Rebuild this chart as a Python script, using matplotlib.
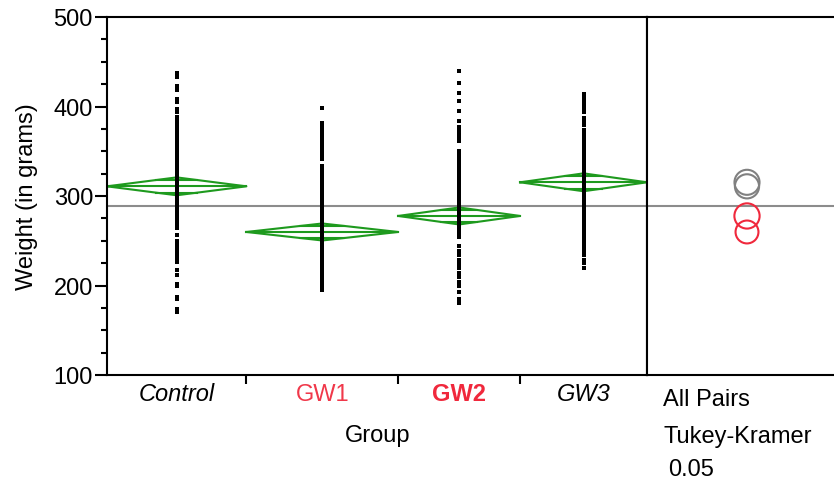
import numpy as np
import matplotlib.pyplot as plt
from matplotlib.patches import Circle

plt.rcParams['font.family'] = ['Liberation Sans', 'DejaVu Sans']

groups = ["Control", "GW1", "GW2", "GW3"]

# individual weights per group (g)
control = [437, 433, 423, 418, 408, 405, 397, 394,
           388, 384, 380, 376, 372, 368, 364, 360, 356, 352, 348, 344, 340, 336,
           332, 328, 324, 320, 316, 312, 308, 304, 300, 296, 292, 288, 284, 280,
           276, 272, 268, 264,
           256, 250, 246, 242, 238, 234, 230, 226, 217, 212, 202, 199, 187, 185,
           174, 170]
gw1 = [398, 382, 378, 374, 370, 366, 362, 357, 353, 349, 345, 341, 333, 329,
       325, 321, 317,
       314, 311, 308, 305, 302, 299, 296, 293, 290, 287, 284, 281, 278, 275,
       272, 269, 266, 263, 260, 259, 257, 254, 251, 248, 246, 245, 242, 239,
       236, 234, 233, 230, 227, 224, 221, 218, 215, 212, 209, 206, 203, 200,
       197, 195]
gw2 = [440, 426, 415, 406, 395, 384,
       377, 373, 369, 365, 361,
       350, 346, 342, 338, 334, 330, 326, 322, 318, 314, 310, 306, 302, 298,
       294, 290, 286, 282, 278, 274, 270, 266, 262, 258, 254,
       244, 239, 234, 229, 224, 219, 214, 209, 204, 199, 193, 185, 180]
gw3 = [414, 410, 406, 402, 398, 394, 387, 383, 379,
       374, 370, 366, 362, 358, 354, 350, 346,
       343, 341, 339, 335, 331, 327, 323, 319, 315, 311, 307, 303, 299, 297,
       295, 291, 287, 283, 279, 275, 271, 267, 265, 263, 259, 255, 251, 247,
       243, 239,
       234, 229, 225, 220]
weights = [control, gw1, gw2, gw3]

# group means, 95% CI half widths, comparison circle radii
means = [310.8, 259.8, 277.7, 315.3]
ci_half = [10.0, 9.5, 9.5, 10.0]
circle_r = [13.5, 12.8, 14.1, 14.0]
grand_mean = 289.0

label_color = ["black", "#f0384a", "#f0283c", "black"]
label_style = ["italic", "normal", "normal", "italic"]
label_weight = ["normal", "normal", "bold", "normal"]
circle_color = ["#808080", "#f0283c", "#f0283c", "#808080"]

green = "#1e9a1e"
fs = 17
W, H = 834, 481
fig = plt.figure(figsize=(W / 100, H / 100), dpi=100)

left, right_px, top, bottom = 107, 647, 18, 376
ax = fig.add_axes([left / W, (H - bottom) / H, (right_px - left) / W, (bottom - top) / H])
ax2 = fig.add_axes([right_px / W, (H - bottom) / H, (W - right_px) / W, (bottom - top) / H])

sizes = [len(v) for v in weights]
edges = np.concatenate([[0], np.cumsum(sizes)])
total = edges[-1]

for i, vals in enumerate(weights):
    l, r = edges[i], edges[i + 1]
    c = (l + r) / 2
    m, h = means[i], ci_half[i]
    ax.scatter(np.full(len(vals), c), vals, marker='s', s=8, color='black',
               linewidths=0, zorder=3)
    # means diamond
    ax.plot([l, c, r, c, l], [m, m + h, m, m - h, m], color=green, lw=1.5, zorder=2)
    ax.plot([l, r], [m, m], color=green, lw=1.5, zorder=2)
    # overlap marks
    d = h / np.sqrt(2)
    half = (1 - 1 / np.sqrt(2)) * (c - l)
    for y in (m + d, m - d):
        ax.plot([c - half, c + half], [y, y], color=green, lw=1.5, zorder=2)
    ax.text(c, -0.052, groups[i], transform=ax.get_xaxis_transform(),
            ha='center', va='center', fontsize=fs, color=label_color[i],
            style=label_style[i], fontweight=label_weight[i])

ax.axhline(grand_mean, color='#8c8c8c', lw=1.5, zorder=1)
ax.set_xlim(0, total)
ax.set_ylim(100, 500)
ax.set_xticks(edges[1:-1])
ax.set_xticklabels([])
ax.tick_params(axis='x', direction='out', length=6.5, width=1.5)
ax.set_yticks(range(100, 501, 100))
ax.set_yticks(range(100, 501, 25), minor=True)
ax.tick_params(axis='y', which='major', direction='out', length=8.6, width=1.5,
               labelsize=fs, pad=1.5)
ax.tick_params(axis='y', which='minor', direction='out', length=4.3, width=1.5)
for s in ax.spines.values():
    s.set_linewidth(1.5)

fig.text(27 / W, (H - 197) / H, "Weight (in grams)", rotation=90, ha='center',
         va='center', fontsize=fs)
fig.text(378 / W, (H - 436) / H, "Group", ha='center', va='center', fontsize=fs)

# comparison circles panel, equal scaling in x and y
yr = 400
xr = yr * (W - right_px) / (bottom - top)
ax2.set_ylim(100, 500)
ax2.set_xlim(0, xr)
ax2.axhline(grand_mean, color='#8c8c8c', lw=1.5, zorder=1)
cx = (747 - right_px) / (W - right_px) * xr
for i in range(len(groups)):
    ax2.add_patch(Circle((cx, means[i]), circle_r[i], fill=False,
                         edgecolor=circle_color[i], lw=1.5, zorder=2))
ax2.set_xticks([])
ax2.set_yticks([])
ax2.spines['right'].set_visible(False)
for s in ax2.spines.values():
    s.set_linewidth(1.5)

fig.text(663 / W, (H - 400) / H, "All Pairs", ha='left', va='center', fontsize=fs)
fig.text(663 / W, (H - 437) / H, "Tukey-Kramer", ha='left', va='center', fontsize=fs)
fig.text(668 / W, (H - 470) / H, "0.05", ha='left', va='center', fontsize=fs)

fig.savefig("out.png", dpi=100)
